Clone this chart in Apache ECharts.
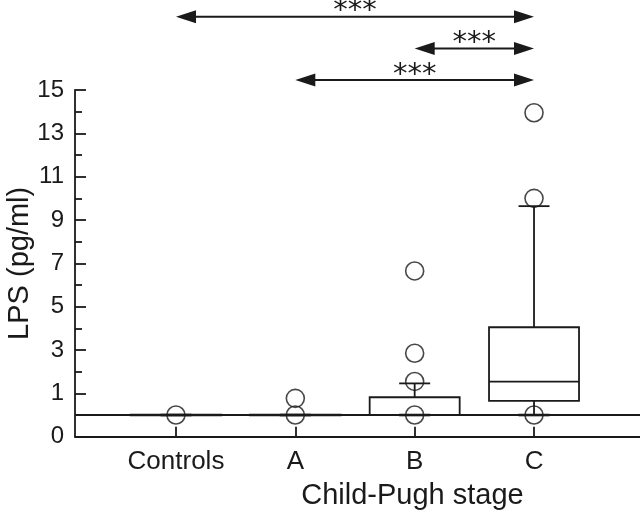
<!DOCTYPE html>
<html>
<head>
<meta charset="utf-8">
<script src="https://cdn.jsdelivr.net/npm/echarts@6/dist/echarts.min.js"></script>
<style>html,body{margin:0;padding:0;background:#fff}#c{width:640px;height:511px}</style>
</head>
<body>
<div id="c"></div>
<script>
// ---- data ----
var categories = ['Controls', 'A', 'B', 'C'];
var boxMin    = [0, 0, 0, 0];
var boxQ1     = [0, 0, 0, 0.65];
var boxMedian = [0, 0, 0, 1.54];
var boxQ3     = [0, 0, 0.82, 4.05];
var boxMax    = [0, 0, 1.46, 9.64];
var pointsControls = [0];
var pointsA = [0, 0.77];
var pointsB = [0, 1.55, 2.85, 6.65];
var pointsC = [0, 10.0, 13.95];
var yTickLabels = ['0', '1', '3', '5', '7', '9', '11', '13', '15'];
var yTickValues = [-1, 1, 3, 5, 7, 9, 11, 13, 15];
var comparisonFrom = ['Controls', 'B', 'A'];
var comparisonTo   = ['C', 'C', 'C'];
var comparisonLevel = [18.38, 16.92, 15.46];
var comparisonLabel = ['***', '***', '***'];
var referenceLevel = 0;

// ---- build ----
var boxData = categories.map(function (c, i) {
  return [i, boxMin[i], boxQ1[i], boxMedian[i], boxQ3[i], boxMax[i]];
});
var groups = [pointsControls, pointsA, pointsB, pointsC];
var pointData = [];
groups.forEach(function (g, i) { g.forEach(function (v) { pointData.push([i, v]); }); });
var arrowData = comparisonFrom.map(function (f, i) {
  return [categories.indexOf(f), categories.indexOf(comparisonTo[i]), comparisonLevel[i]];
});

var INK = '#1a1a1a';
var FONT = 'Liberation Sans, Arial, Helvetica, sans-serif';
var BOX_HALF = 45, CAP_HALF = 15.5, LW = 1.8;

var chart = echarts.init(document.getElementById('c'), null, {renderer: 'canvas'});
chart.setOption({
  animation: false,
  backgroundColor: '#fff',
  grid: {left: 75, right: 0, top: 90, bottom: 74.3, containLabel: false, outerBoundsMode: 'none'},
  xAxis: {
    type: 'value', min: -0.846, max: 3.888,
    name: 'Child-Pugh stage', nameLocation: 'middle', nameGap: 45,
    nameTextStyle: {fontFamily: FONT, fontSize: 29, color: INK, padding: [0, 0, 0, 110]},
    splitLine: {show: false},
    axisLine: {show: true, onZero: false, lineStyle: {color: INK, width: LW}},
    axisTick: {show: true, inside: true, length: 10, customValues: [0, 1, 2, 3], lineStyle: {color: INK, width: LW}},
    axisLabel: {customValues: [0, 1, 2, 3], margin: 12, fontFamily: FONT, fontSize: 26, color: INK,
      formatter: function (v) { return categories[Math.round(v)]; }}
  },
  yAxis: {
    type: 'value', min: -1, max: 15, interval: 2,
    name: 'LPS (pg/ml)', nameLocation: 'middle', nameGap: 41, nameRotate: 90, nameMoveOverlap: false,
    nameTextStyle: {fontFamily: FONT, fontSize: 29, color: INK},
    splitLine: {show: false},
    axisLine: {show: true, onZero: false, lineStyle: {color: INK, width: LW}},
    axisTick: {show: true, inside: true, length: 11, lineStyle: {color: INK, width: LW}},
    minorTick: {show: true, splitNumber: 2, length: 7, lineStyle: {color: INK, width: LW}},
    minorSplitLine: {show: false},
    axisLabel: {margin: 11, fontFamily: FONT, fontSize: 24, color: INK,
      formatter: function (v) { var k = yTickValues.indexOf(v); return k >= 0 ? yTickLabels[k] : ''; }}
  },
  series: [
    {
      type: 'custom', name: 'box', silent: true,
      data: boxData,
      renderItem: function (params, api) {
        var x = api.value(0);
        var pMin = api.coord([x, api.value(1)]);
        var pQ1 = api.coord([x, api.value(2)]);
        var pMed = api.coord([x, api.value(3)]);
        var pQ3 = api.coord([x, api.value(4)]);
        var pMax = api.coord([x, api.value(5)]);
        var cx = pQ1[0];
        var st = {stroke: INK, lineWidth: LW, fill: null};
        var capSt = {stroke: INK, lineWidth: 2.6, fill: null};
        var flat = pQ1[1] - pQ3[1] < 0.5;
        return {type: 'group', children: [
          {type: 'line', shape: {x1: cx, y1: pQ3[1], x2: cx, y2: pMax[1]}, style: st},
          {type: 'line', shape: {x1: cx, y1: pQ1[1], x2: cx, y2: pMin[1]}, style: st},
          {type: 'line', shape: {x1: cx - CAP_HALF, y1: pMax[1], x2: cx + CAP_HALF, y2: pMax[1]}, style: st},
          {type: 'line', shape: {x1: cx - CAP_HALF, y1: pMin[1], x2: cx + CAP_HALF, y2: pMin[1]}, style: capSt},
          {type: 'rect', shape: {x: cx - BOX_HALF, y: pQ3[1], width: 2 * BOX_HALF, height: Math.max(pQ1[1] - pQ3[1], 0.01)},
            style: {stroke: INK, lineWidth: flat ? 2.4 : LW, fill: 'rgba(0,0,0,0)'}},
          {type: 'line', shape: {x1: cx - BOX_HALF, y1: pMed[1], x2: cx + BOX_HALF, y2: pMed[1]}, style: st}
        ]};
      },
      z: 2
    },
    {
      type: 'scatter', name: 'points', silent: true,
      data: pointData, symbol: 'circle', symbolSize: 18,
      itemStyle: {color: 'rgba(0,0,0,0)', borderColor: INK, borderWidth: 1.6},
      markLine: {
        silent: true, symbol: 'none', label: {show: false},
        lineStyle: {color: INK, width: LW, type: 'solid'},
        data: [{yAxis: referenceLevel}]
      },
      z: 3
    },
    {
      type: 'custom', name: 'arrows', silent: true, clip: false,
      data: arrowData,
      renderItem: function (params, api) {
        var a = api.coord([api.value(0), api.value(2)]);
        var b = api.coord([api.value(1), api.value(2)]);
        var y = a[1], L = 20, H = 6.5;
        var lab = comparisonLabel[params.dataIndex];
        return {type: 'group', children: [
          {type: 'line', shape: {x1: a[0] + L - 2, y1: y, x2: b[0] - L + 2, y2: y}, style: {stroke: INK, lineWidth: 2}},
          {type: 'polygon', shape: {points: [[a[0], y], [a[0] + L, y - H], [a[0] + L, y + H]]}, style: {fill: INK}},
          {type: 'polygon', shape: {points: [[b[0], y], [b[0] - L, y - H], [b[0] - L, y + H]]}, style: {fill: INK}},
          {type: 'text', style: {text: lab, x: (a[0] + b[0]) / 2, y: y - 5, align: 'center', verticalAlign: 'middle',
            font: '29px "DejaVu Sans"', fill: INK}}
        ]};
      },
      z: 4
    }
  ]
});
</script>
</body>
</html>
